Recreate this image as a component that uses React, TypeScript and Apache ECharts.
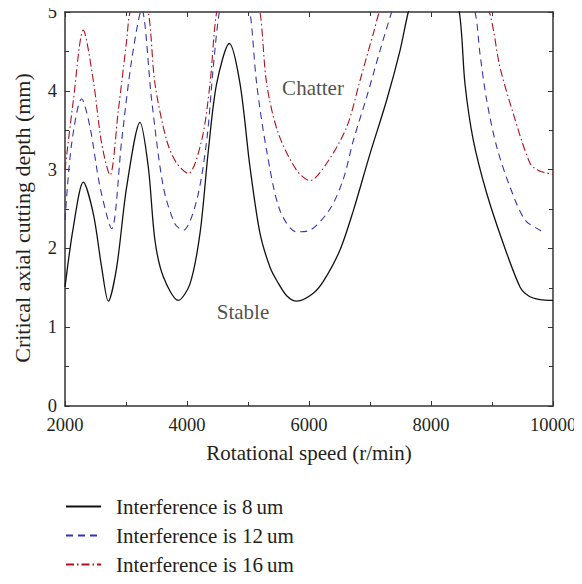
import React, { useEffect, useRef } from "react";
import * as echarts from "echarts";

const speeds8 = [2000, 2137, 2300, 2464, 2601, 2710, 2847, 3011, 3230, 3366, 3475, 3612, 3858, 4049, 4213, 4350, 4486, 4694, 4869, 5033, 5197, 5361, 5480, 5634, 5798, 6071, 6250, 6508, 6727, 7000, 7273, 7492, 7628, 7850, 8050, 8250, 8464, 8557, 8694, 8913, 9186, 9459, 9596, 9787, 10000];
const depth8 = [1.51, 2.27, 2.84, 2.44, 1.76, 1.33, 1.76, 2.78, 3.6, 3.03, 2.1, 1.64, 1.34, 1.55, 2.19, 3.24, 4.09, 4.6, 4.09, 3.03, 2.19, 1.76, 1.58, 1.4, 1.33, 1.43, 1.6, 1.98, 2.48, 3.2, 3.88, 4.51, 5.0, 5.6, 5.9, 5.6, 5.0, 4.09, 3.37, 2.7, 2.06, 1.51, 1.4, 1.35, 1.34];

const speeds12 = [2000, 2109, 2273, 2410, 2574, 2765, 2929, 3093, 3257, 3421, 3612, 3803, 3940, 4159, 4323, 4431, 4530, 4700, 4870, 5033, 5142, 5306, 5525, 5798, 6016, 6344, 6563, 6727, 6945, 7164, 7355, 7700, 8050, 8400, 8721, 8803, 8913, 9077, 9295, 9541, 9787, 9820];
const depth12 = [2.36, 3.33, 3.9, 3.54, 2.78, 2.25, 3.37, 4.39, 5.03, 3.88, 2.78, 2.31, 2.23, 2.61, 3.37, 4.3, 5.0, 5.6, 5.6, 5.0, 4.09, 3.24, 2.48, 2.21, 2.23, 2.5, 2.88, 3.37, 3.92, 4.51, 5.0, 5.8, 6.1, 5.8, 5.0, 4.47, 3.88, 3.29, 2.78, 2.36, 2.23, 2.22];

const speeds16 = [2000, 2137, 2300, 2464, 2601, 2738, 2874, 3011, 3066, 3216, 3366, 3475, 3667, 3831, 4021, 4240, 4377, 4486, 4700, 5000, 5197, 5306, 5497, 5798, 6016, 6290, 6618, 6836, 7055, 7153, 7600, 8050, 8500, 8956, 9131, 9349, 9623, 9759, 10000];
const depth16 = [3.0, 3.88, 4.77, 4.13, 3.33, 2.93, 3.75, 4.64, 5.0, 5.3, 5.0, 4.09, 3.37, 3.08, 2.95, 3.37, 4.09, 5.0, 5.7, 5.7, 5.0, 4.09, 3.46, 2.99, 2.86, 3.08, 3.54, 4.13, 4.73, 5.0, 5.9, 6.2, 5.9, 5.0, 4.3, 3.71, 3.08, 2.99, 2.94];

const seriesNames = ["Interference is 8\u2009um", "Interference is 12\u2009um", "Interference is 16\u2009um"];
const xTicks = [2000, 4000, 6000, 8000, 10000];
const yTicks = [0, 1, 2, 3, 4, 5];
const annotations = [
  { name: "Chatter", x: 6066, y: 4.03 },
  { name: "Stable", x: 4918, y: 1.19 },
];

const FONT = "'Liberation Serif', 'DejaVu Serif', serif";
const TEXT = "#231f20";

function zip(xs: number[], ys: number[]) {
  return xs.map((x, i) => [x, ys[i]]);
}

export default function App() {
  const ref = useRef<HTMLDivElement>(null);
  useEffect(() => {
    if (!ref.current) return;
    const chart = echarts.init(ref.current, null, { renderer: "svg" });
    const axisLine = { lineStyle: { color: "#333", width: 1.5 } };
    const tickStyle = { color: "#333", width: 1 };
    const baseX = {
      type: "value",
      min: xTicks[0],
      max: xTicks[xTicks.length - 1],
      interval: 2000,
      axisLine: { ...axisLine, onZero: false },
      axisTick: { inside: true, length: 5, lineStyle: tickStyle },
      minorTick: { show: true, splitNumber: 2, length: 4, lineStyle: tickStyle },
      splitLine: { show: false },
    };
    const baseY = {
      type: "value",
      min: yTicks[0],
      max: yTicks[yTicks.length - 1],
      interval: 1,
      axisLine: { ...axisLine, onZero: false },
      axisTick: { inside: true, length: 5, lineStyle: tickStyle },
      minorTick: { show: true, splitNumber: 2, length: 4, lineStyle: tickStyle },
      splitLine: { show: false },
    };
    chart.setOption({
      animation: false,
      textStyle: { fontFamily: FONT },
      grid: { left: 65, right: 29, top: 12, bottom: 178, containLabel: false },
      xAxis: [
        {
          ...baseX,
          position: "bottom",
          name: "Rotational speed (r/min)",
          nameLocation: "middle",
          nameGap: 36,
          nameTextStyle: { fontFamily: FONT, fontSize: 21, color: TEXT },
          axisLabel: { fontFamily: FONT, fontSize: 18.5, color: TEXT, margin: 9, formatter: (v: number) => String(v) },
        },
        { ...baseX, position: "top", axisLabel: { show: false } },
      ],
      yAxis: [
        {
          ...baseY,
          position: "left",
          name: "Critical axial cutting depth (mm)",
          nameLocation: "middle",
          nameGap: 32,
          nameTextStyle: { fontFamily: FONT, fontSize: 22, color: TEXT, padding: [0, 18, 0, 0] },
          axisLabel: { fontFamily: FONT, fontSize: 18.5, color: TEXT, margin: 8, padding: [0, 0, 2, 0] },
        },
        { ...baseY, position: "right", axisLabel: { show: false } },
      ],
      legend: {
        data: seriesNames,
        orient: "vertical",
        left: 60,
        top: 491,
        itemWidth: 35,
        itemHeight: 14,
        itemGap: 8,
        itemStyle: { opacity: 0 },
        textStyle: { fontFamily: FONT, fontSize: 21, color: TEXT, padding: [0, 0, 0, 10] },
      },
      series: [
        {
          name: seriesNames[0],
          type: "line",
          data: zip(speeds8, depth8),
          smooth: 0.3,
          symbol: "none",
          lineStyle: { color: "#111", width: 1.3, type: "solid" },
          itemStyle: { color: "#111" },
        },
        {
          name: seriesNames[1],
          type: "line",
          data: zip(speeds12, depth12),
          smooth: 0.3,
          symbol: "none",
          lineStyle: { color: "#3535b0", width: 1.1, type: [7, 5] },
          itemStyle: { color: "#3535b0" },
        },
        {
          name: seriesNames[2],
          type: "line",
          data: zip(speeds16, depth16),
          smooth: 0.3,
          symbol: "none",
          lineStyle: { color: "#b0101c", width: 1.1, type: [8, 3, 1.5, 3] },
          itemStyle: { color: "#b0101c" },
        },
        {
          name: "annotations",
          type: "scatter",
          symbolSize: 0,
          data: annotations.map((a) => ({ value: [a.x, a.y], name: a.name })),
          label: {
            show: true,
            position: "inside",
            formatter: (p: any) => p.name,
            fontFamily: FONT,
            fontSize: 21,
            color: TEXT,
          },
          silent: true,
        },
      ],
    });
    return () => chart.dispose();
  }, []);
  return <div ref={ref} style={{ width: 582, height: 584, marginLeft: -8, marginTop: -8 }} />;
}
